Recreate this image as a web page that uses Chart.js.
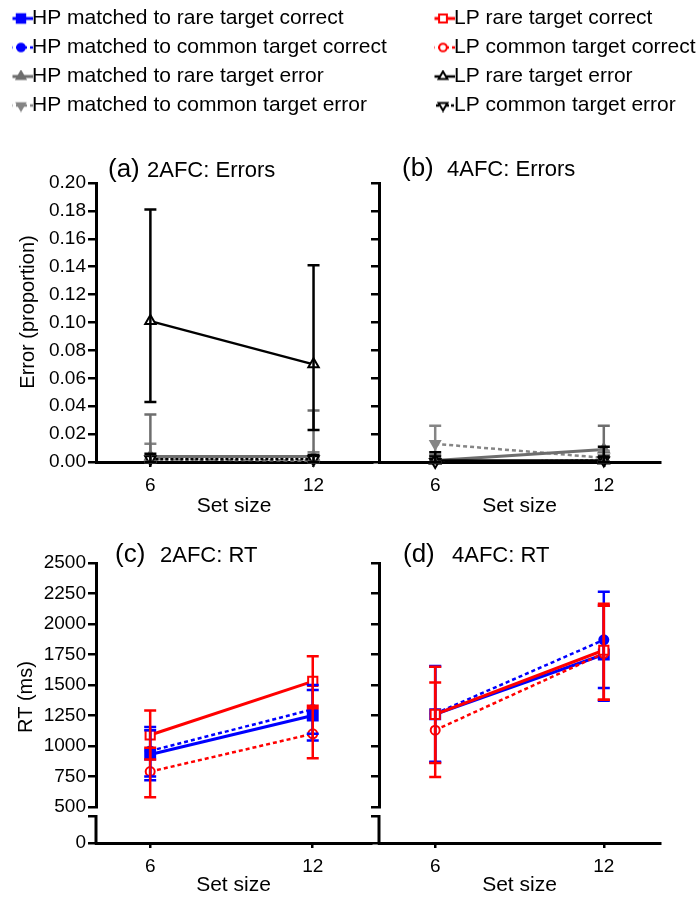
<!DOCTYPE html>
<html>
<head>
<meta charset="utf-8">
<script src="https://cdn.jsdelivr.net/npm/chart.js@4.4.1/dist/chart.umd.min.js"></script>
<style>
  html, body { margin: 0; padding: 0; background: #fff; }
  body { width: 700px; height: 898px; position: relative; overflow: hidden; }
  canvas { position: absolute; }
</style>
</head>
<body>
<canvas id="legend-hp" width="420" height="260" style="left:0;top:0"></canvas>
<canvas id="legend-lp" width="280" height="260" style="left:420px;top:0"></canvas>
<canvas id="panel-a" width="380" height="380" style="left:0;top:140px"></canvas>
<canvas id="panel-b" width="360" height="380" style="left:340px;top:140px"></canvas>
<canvas id="panel-c" width="380" height="378" style="left:0;top:520px"></canvas>
<canvas id="panel-d" width="360" height="378" style="left:340px;top:520px"></canvas>
<script>
const setSizes = [6, 12];
const errTicks = [0, 0.02, 0.04, 0.06, 0.08, 0.10, 0.12, 0.14, 0.16, 0.18, 0.20];
const rtTicks = [500, 750, 1000, 1250, 1500, 1750, 2000, 2250, 2500];
const rtLowTicks = [0, 225]; // 225 = unlabelled cap under the axis break

// (a) 2AFC errors (proportion), CI as [low, high]
const err2HpRare = [0.004, 0.004];
const err2HpRareCI = [[0, 0.034], [0, 0.037]];
const err2HpCommon = [0.002, 0.001];
const err2HpCommonCI = [[0, 0.013], [0, 0.007]];
const err2LpRare = [0.101, 0.070];
const err2LpRareCI = [[0.043, 0.181], [0.023, 0.141]];
const err2LpCommon = [0.002, 0.002];
const err2LpCommonCI = [[0, 0.006], [0, 0.005]];

// (b) 4AFC errors
const err4HpRare = [0.001, 0.009];
const err4HpRareCI = [[0, 0.005], [0, 0.026]];
const err4HpCommon = [0.013, 0.003];
const err4HpCommonCI = [[0, 0.026], [0, 0.008]];
const err4LpRare = [0.001, 0.001];
const err4LpRareCI = [[0, 0.007], [0, 0.011]];
const err4LpCommon = [0.000, 0.001];
const err4LpCommonCI = [[0, 0.004], [0, 0.004]];

// (c) 2AFC RT (ms)
const rt2HpRare = [930, 1250];
const rt2HpRareCI = [[720, 1130], [1045, 1460]];
const rt2HpCommon = [960, 1300];
const rt2HpCommonCI = [[750, 1155], [1100, 1500]];
const rt2LpRare = [1090, 1530];
const rt2LpRareCI = [[890, 1290], [1330, 1735]];
const rt2LpCommon = [790, 1100];
const rt2LpCommonCI = [[580, 985], [900, 1310]];

// (d) 4AFC RT (ms)
const rt4HpRare = [1260, 1750];
const rt4HpRareCI = [[870, 1650], [1370, 2150]];
const rt4HpCommon = [1265, 1870];
const rt4HpCommonCI = [[865, 1655], [1475, 2265]];
const rt4LpRare = [1260, 1785];
const rt4LpRareCI = [[860, 1650], [1380, 2165]];
const rt4LpCommon = [1130, 1760];
const rt4LpCommonCI = [[745, 1520], [1380, 2150]];

const FONT = "'Liberation Sans', Arial, Helvetica, sans-serif";
Chart.defaults.font.family = FONT;
Chart.defaults.font.size = 19;
Chart.defaults.color = "#000";

const STYLES = {
  hpRareCorrect: { label: "HP matched to rare target correct", color: "#0000ff", width: 3, dash: [], point: "rect", radius: 7, fill: "#0000ff" },
  hpCommonCorrect: { label: "HP matched to common target correct", color: "#0000ff", width: 2.5, dash: [4, 3], point: "circle", radius: 4.5, fill: "#0000ff" },
  hpRareError: { label: "HP matched to rare target error", color: "#6e6e6e", width: 3, dash: [], point: "triangle", radius: 6, fill: "#6e6e6e" },
  hpCommonError: { label: "HP matched to common target error", color: "#858585", width: 2.5, dash: [4, 3], point: "triangle", rotation: 180, radius: 5.5, fill: "#858585" },
  lpRareCorrect: { label: "LP rare target correct", color: "#ff0000", width: 3, dash: [], point: "rect", radius: 6.5, fill: "#ffffff" },
  lpCommonCorrect: { label: "LP common target correct", color: "#ff0000", width: 2.5, dash: [4, 3], point: "circle", radius: 4.5, fill: "#ffffff" },
  lpRareError: { label: "LP rare target error", color: "#000000", width: 2.5, dash: [], point: "triangle", radius: 6, fill: "#ffffff" },
  lpCommonError: { label: "LP common target error", color: "#000000", width: 2.5, dash: [3, 2], point: "triangle", rotation: 180, radius: 6, fill: "#ffffff" }
};

function series(key, values, ci) {
  const s = STYLES[key];
  return {
    label: s.label,
    data: setSizes.map((x, i) => ({ x, y: values[i] })),
    errorBars: ci,
    borderColor: s.color,
    borderWidth: s.width,
    borderDash: s.dash,
    pointStyle: s.point,
    pointRadius: s.radius,
    pointHoverRadius: s.radius,
    pointRotation: s.rotation || 0,
    pointBackgroundColor: s.fill,
    pointBorderColor: s.color,
    pointBorderWidth: 2,
    fill: false,
    tension: 0,
    clip: false
  };
}

// error bars drawn from each dataset's CI through the chart scales
const errorBarPlugin = {
  id: "errorBars",
  afterDatasetsDraw(chart) {
    const ctx = chart.ctx;
    for (let di = chart.data.datasets.length - 1; di >= 0; di--) {
      const ds = chart.data.datasets[di];
      if (!ds.errorBars) continue;
      const meta = chart.getDatasetMeta(di);
      const xs = chart.scales[meta.xAxisID];
      const ys = chart.scales[meta.yAxisID];
      ctx.save();
      ctx.strokeStyle = ds.borderColor;
      ctx.lineWidth = 2.5;
      ctx.setLineDash([]);
      ds.errorBars.forEach(([lo, hi], i) => {
        const x = xs.getPixelForValue(ds.data[i].x);
        const y1 = ys.getPixelForValue(lo);
        const y2 = ys.getPixelForValue(hi);
        ctx.beginPath();
        ctx.moveTo(x, y1); ctx.lineTo(x, y2);
        ctx.moveTo(x - 6, y1); ctx.lineTo(x + 6, y1);
        ctx.moveTo(x - 6, y2); ctx.lineTo(x + 6, y2);
        ctx.stroke();
      });
      ctx.restore();
    }
  }
};

// panel tag + title, rotated y title, lower segment of a broken axis
const panelTextPlugin = {
  id: "panelText",
  afterDraw(chart, args, opts) {
    const ctx = chart.ctx;
    ctx.save();
    ctx.fillStyle = "#000";
    ctx.textBaseline = "alphabetic";
    ctx.textAlign = "left";
    ctx.font = "26px " + FONT;
    ctx.fillText(opts.tag, opts.tagX, opts.baseY);
    ctx.font = "22px " + FONT;
    ctx.fillText(opts.title, opts.titleX, opts.baseY);
    if (opts.yTitle) {
      ctx.translate(opts.yTitleX, opts.yTitleY);
      ctx.rotate(-Math.PI / 2);
      ctx.textAlign = "center";
      ctx.textBaseline = "middle";
      ctx.font = "20px " + FONT;
      ctx.fillText(opts.yTitle, 0, 0);
    }
    ctx.restore();
    const low = chart.scales.yLow;
    if (low) {
      const x = chart.chartArea.left;
      ctx.save();
      ctx.strokeStyle = "#000";
      ctx.lineWidth = 3;
      ctx.beginPath();
      ctx.moveTo(x, low.getPixelForValue(rtLowTicks[1]) - 1);
      ctx.lineTo(x, low.getPixelForValue(0) + 1.5);
      ctx.stroke();
      ctx.restore();
    }
  }
};

function xAxis(min, max, height, titlePad) {
  return {
    type: "linear",
    min,
    max,
    afterBuildTicks: (s) => { s.ticks = setSizes.map((v) => ({ value: v })); },
    afterFit: (s) => { s.height = height; },
    ticks: { padding: 7, autoSkip: false, maxRotation: 0, callback: (v) => String(v) },
    grid: { drawOnChartArea: false, tickLength: 5, lineWidth: 2.5, color: "#000" },
    border: { display: true, width: 3, color: "#000" },
    title: { display: true, text: "Set size", font: { size: 21 }, padding: { top: 0, bottom: titlePad } }
  };
}

function axisGrid() {
  return { drawOnChartArea: false, tickLength: 8, lineWidth: 2.5, color: "#000" };
}

function errAxis(width, labels) {
  return {
    type: "linear",
    min: 0,
    max: 0.2,
    afterBuildTicks: (s) => { s.ticks = errTicks.map((v) => ({ value: v })); },
    afterFit: (s) => { s.width = width; },
    ticks: { display: labels, autoSkip: false, padding: 2, callback: (v) => v.toFixed(2) },
    grid: axisGrid(),
    border: { display: true, width: 3, color: "#000" }
  };
}

function rtAxes(width, labels) {
  return {
    y: {
      type: "linear",
      position: "left",
      stack: "rt",
      stackWeight: 244,
      weight: 2,
      min: 500,
      max: 2500,
      afterBuildTicks: (s) => { s.ticks = rtTicks.map((v) => ({ value: v })); },
      afterFit: (s) => { s.width = width; },
      ticks: { display: labels, autoSkip: false, padding: 2, callback: (v) => String(v) },
      grid: axisGrid(),
      border: { display: true, width: 3, color: "#000" }
    },
    yLow: {
      type: "linear",
      position: "left",
      stack: "rt",
      stackWeight: 36,
      weight: 1,
      min: 0,
      max: 300,
      afterBuildTicks: (s) => { s.ticks = rtLowTicks.map((v) => ({ value: v })); },
      afterFit: (s) => { s.width = width; },
      ticks: { display: labels, autoSkip: false, padding: 2, callback: (v) => (v === 0 ? "0" : "") },
      grid: axisGrid(),
      border: { display: false }
    }
  };
}

function panel(id, datasets, scales, padding, text) {
  return new Chart(document.getElementById(id), {
    type: "line",
    data: { datasets },
    options: {
      responsive: false,
      animation: false,
      events: [],
      devicePixelRatio: 1,
      layout: { padding },
      scales,
      plugins: {
        legend: { display: false },
        tooltip: { enabled: false },
        panelText: text
      }
    },
    plugins: [errorBarPlugin, panelTextPlugin]
  });
}

panel("panel-a", [
  series("lpRareError", err2LpRare, err2LpRareCI),
  series("lpCommonError", err2LpCommon, err2LpCommonCI),
  series("hpRareError", err2HpRare, err2HpRareCI),
  series("hpCommonError", err2HpCommon, err2HpCommonCI)
], { x: xAxis(4, 14.15, 58, 1), y: errAxis(96, true) },
{ top: 43, right: 1, bottom: 0, left: 0 },
{ tag: "(a)", title: "2AFC: Errors", tagX: 108, titleX: 147, baseY: 37, yTitle: "Error (proportion)", yTitleX: 28, yTitleY: 172 });

panel("panel-b", [
  series("lpRareError", err4LpRare, err4LpRareCI),
  series("lpCommonError", err4LpCommon, err4LpCommonCI),
  series("hpRareError", err4HpRare, err4HpRareCI),
  series("hpCommonError", err4HpCommon, err4HpCommonCI)
], { x: xAxis(4, 14, 58, 1), y: errAxis(39, false) },
{ top: 43, right: 40, bottom: 0, left: 0 },
{ tag: "(b)", title: "4AFC: Errors", tagX: 62, titleX: 107, baseY: 36 });

panel("panel-c", [
  series("lpRareCorrect", rt2LpRare, rt2LpRareCI),
  series("lpCommonCorrect", rt2LpCommon, rt2LpCommonCI),
  series("hpRareCorrect", rt2HpRare, rt2HpRareCI),
  series("hpCommonCorrect", rt2HpCommon, rt2HpCommonCI)
], Object.assign({ x: xAxis(4, 14.15, 55, 0) }, rtAxes(96, true)),
{ top: 43, right: 1, bottom: 0, left: 0 },
{ tag: "(c)", title: "2AFC: RT", tagX: 115, titleX: 160, baseY: 42, yTitle: "RT (ms)", yTitleX: 26, yTitleY: 177 });

panel("panel-d", [
  series("lpRareCorrect", rt4LpRare, rt4LpRareCI),
  series("lpCommonCorrect", rt4LpCommon, rt4LpCommonCI),
  series("hpRareCorrect", rt4HpRare, rt4HpRareCI),
  series("hpCommonCorrect", rt4HpCommon, rt4HpCommonCI)
], Object.assign({ x: xAxis(4, 14, 55, 0) }, rtAxes(39, false)),
{ top: 43, right: 40, bottom: 0, left: 0 },
{ tag: "(d)", title: "4AFC: RT", tagX: 63, titleX: 112, baseY: 42 });

// legend symbols: short line with the series marker
function makeIcon(s) {
  const c = document.createElement("canvas");
  c.width = 24;
  c.height = 14;
  const g = c.getContext("2d");
  g.strokeStyle = s.color;
  g.lineWidth = s.width;
  g.setLineDash(s.dash);
  g.beginPath();
  g.moveTo(0, 7);
  g.lineTo(24, 7);
  g.stroke();
  g.setLineDash([]);
  g.fillStyle = s.fill;
  g.lineWidth = 2;
  Chart.helpers.drawPoint(g, { pointStyle: s.point, radius: s.radius * 0.85, rotation: s.rotation || 0, borderWidth: 2 }, 12, 7);
  return c;
}

function legendChart(id, keys, left) {
  return new Chart(document.getElementById(id), {
    type: "line",
    data: { datasets: keys.map((k) => ({ label: STYLES[k].label, data: [] })) },
    options: {
      responsive: false,
      animation: false,
      events: [],
      devicePixelRatio: 1,
      layout: { padding: { left, top: 0, right: 0, bottom: 0 } },
      scales: { x: { display: false }, y: { display: false } },
      plugins: {
        tooltip: { enabled: false },
        legend: {
          position: "top",
          align: "start",
          labels: {
            font: { size: 21 },
            color: "#000",
            padding: 8,
            usePointStyle: true,
            pointStyleWidth: 1,
            generateLabels: () => keys.map((k, i) => ({
              text: STYLES[k].label,
              pointStyle: makeIcon(STYLES[k]),
              fillStyle: "transparent",
              strokeStyle: "transparent",
              lineWidth: 0,
              hidden: false,
              datasetIndex: i
            }))
          }
        }
      }
    }
  });
}

legendChart("legend-hp", ["hpRareCorrect", "hpCommonCorrect", "hpRareError", "hpCommonError"], 12.5);
legendChart("legend-lp", ["lpRareCorrect", "lpCommonCorrect", "lpRareError", "lpCommonError"], 14.5);
</script>
</body>
</html>
